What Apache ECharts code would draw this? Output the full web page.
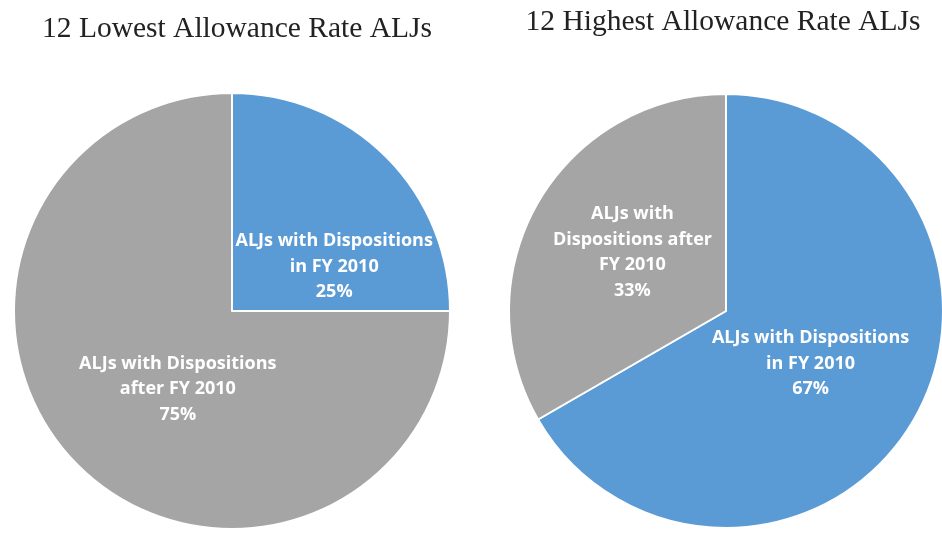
<!DOCTYPE html>
<html>
<head>
<meta charset="utf-8">
<script src="https://cdn.jsdelivr.net/npm/echarts@6/dist/echarts.min.js"></script>
<style>
html,body{margin:0;padding:0;background:#fff;}
#chart{width:942px;height:533px;}
</style>
</head>
<body>
<div id="chart"></div>
<script>
const titles = ['12 Lowest Allowance Rate ALJs', '12 Highest Allowance Rate ALJs'];
const lowestNames = ['ALJs with Dispositions\nin FY 2010', 'ALJs with Dispositions\nafter FY 2010'];
const lowestValues = [3, 9];
const highestNames = ['ALJs with Dispositions\nin FY 2010', 'ALJs with\nDispositions after\nFY 2010'];
const highestValues = [8, 4];
const colors = ['#5B9BD5', '#A5A5A5'];

const chart = echarts.init(document.getElementById('chart'));

function makeData(names, values) {
  return names.map((n, i) => ({ name: n, value: values[i], itemStyle: { color: colors[i] } }));
}

const labelStyle = {
  show: true,
  position: 'inside',
  color: '#fff',
  fontFamily: 'Open Sans',
  fontWeight: 'bold',
  fontSize: 18,
  lineHeight: 25.5,
  align: 'center',
  formatter: p => p.name + '\n' + Math.round(p.percent) + '%'
};

const leftOffsets = [{dx: 23, dy: 35}, {dx: 25, dy: -1}];
const rightOffsets = [{dx: -12, dy: -3}, {dx: 3, dy: -3}];

const titleStyle = { fontFamily: 'Liberation Serif', fontWeight: 'normal', fontSize: 29.5, color: '#222' };

chart.setOption({
  animation: false,
  title: [
    { text: titles[0], left: 232, top: 9, textAlign: 'center', textStyle: titleStyle },
    { text: titles[1], left: 718, top: 2, textAlign: 'center', textStyle: titleStyle }
  ],
  series: [
    {
      type: 'pie', center: [232, 311], radius: 218, startAngle: 90, clockwise: true,
      itemStyle: { borderColor: '#fff', borderWidth: 2 },
      label: labelStyle, labelLine: { show: false },
      labelLayout: p => leftOffsets[p.dataIndex],
      emphasis: { disabled: true },
      data: makeData(lowestNames, lowestValues)
    },
    {
      type: 'pie', center: [726, 311], radius: 217, startAngle: 90, clockwise: true,
      itemStyle: { borderColor: '#fff', borderWidth: 2 },
      label: labelStyle, labelLine: { show: false },
      labelLayout: p => rightOffsets[p.dataIndex],
      emphasis: { disabled: true },
      data: makeData(highestNames, highestValues)
    }
  ]
});
</script>
</body>
</html>
